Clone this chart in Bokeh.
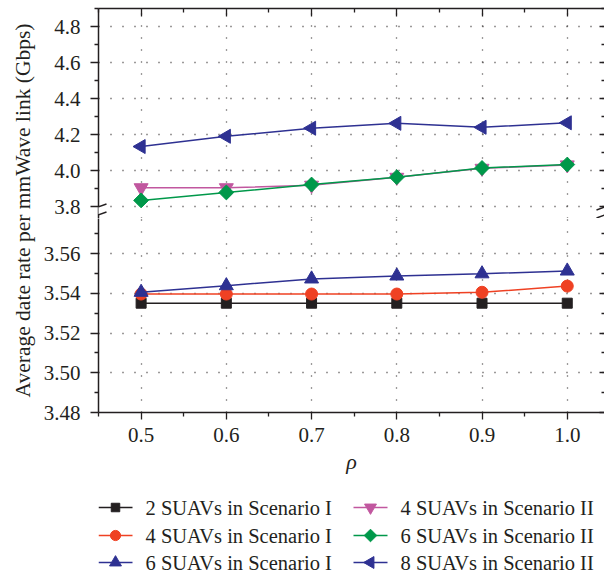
from math import pi
from bokeh.plotting import figure
from bokeh.layouts import row, column
from bokeh.models import (Range1d, LinearAxis, FixedTicker, Label, Arrow, Grid,
                          NumeralTickFormatter, CustomJSTickFormatter, ColumnDataSource)
from bokeh.core.properties import value
from bokeh.embed import file_html
from bokeh.resources import INLINE

# ---------------- data ----------------
rho = [0.5, 0.6, 0.7, 0.8, 0.9, 1.0]
suav2_I = [3.535, 3.535, 3.535, 3.535, 3.535, 3.535]
suav4_I = [3.5396, 3.5396, 3.5396, 3.5396, 3.5405, 3.5436]
suav6_I = [3.5405, 3.5438, 3.5472, 3.5487, 3.5498, 3.5512]
suav4_II = [3.904, 3.904, 3.918, 3.962, 4.012, 4.031]
suav6_II = [3.834, 3.878, 3.922, 3.963, 4.014, 4.033]
suav8_II = [4.133, 4.190, 4.235, 4.262, 4.240, 4.265]

x_ticks = [0.5, 0.6, 0.7, 0.8, 0.9, 1.0]
x_minor = [0.45, 0.55, 0.65, 0.75, 0.85, 0.95, 1.05]
top_ticks = [3.8, 4.0, 4.2, 4.4, 4.6, 4.8]
top_minor = [3.7, 3.9, 4.1, 4.3, 4.5, 4.7, 4.9]
bot_ticks = [3.48, 3.50, 3.52, 3.54, 3.56]
bot_minor = [3.49, 3.51, 3.53, 3.55, 3.57]

labels = ["2 SUAVs in Scenario I", "4 SUAVs in Scenario I", "6 SUAVs in Scenario I",
          "4 SUAVs in Scenario II", "6 SUAVs in Scenario II", "8 SUAVs in Scenario II"]
y_label = "Average date rate per mmWave link (Gbps)"
x_label = "ρ"

# ---------------- style ----------------
FONT = "Liberation Serif"
INK = "#231f20"
C_BLACK = "#231f20"
C_RED = "#ef4123"
C_NAVY = "#2e3192"
C_MAG = "#c1579f"
C_GREEN = "#00984a"
C_NAVY2 = "#2e3192"

X0, X1 = 0.45, 1.0437
FW = 506
TOP_FH = 210
TOP_Y1 = 4.9
TOP_Y0 = TOP_Y1 - TOP_FH / 180.0
BOT_FH = 194
BOT_Y0 = 3.48
BOT_Y1 = BOT_Y0 + BOT_FH / 1987.5
LEFT = 62
YL_W = 36
TOP_MB = 8
LEG_H = 97

xr = Range1d(X0, X1)


def make_fig(y0, y1, fh, mb_top, mb_bottom):
    return figure(x_range=xr, y_range=Range1d(y0, y1), frame_width=FW, frame_height=fh,
                  min_border_left=LEFT, min_border_right=0, min_border_top=mb_top,
                  min_border_bottom=mb_bottom, x_axis_type=None, y_axis_type=None,
                  toolbar_location=None, output_backend="svg", outline_line_color=None)


def style_grid(g):
    g.grid_line_color = INK
    g.grid_line_width = 1.3
    g.grid_line_dash = "1 11"
    g.grid_line_alpha = 0.9


blank = CustomJSTickFormatter(code="return ''")


def y_axis(ticks, minor, fmt, side):
    ax = LinearAxis(ticker=FixedTicker(ticks=ticks, minor_ticks=minor))
    ax.axis_line_color = INK
    ax.axis_line_width = 1.5
    ax.major_tick_line_color = INK
    ax.minor_tick_line_color = INK
    ax.major_tick_line_width = 1.3
    ax.minor_tick_line_width = 1.3
    if side == "left":
        ax.formatter = NumeralTickFormatter(format=fmt)
        ax.major_tick_out = 8
        ax.major_tick_in = 0
        ax.minor_tick_out = 4
        ax.minor_tick_in = 0
        ax.major_label_standoff = 10
        ax.major_label_text_font = FONT
        ax.major_label_text_font_size = "21px"
        ax.major_label_text_color = INK
    else:
        ax.formatter = blank
        ax.axis_line_color = None
        ax.major_tick_out = 0
        ax.major_tick_in = 5
        ax.minor_tick_out = 0
        ax.minor_tick_in = 3
        ax.major_label_standoff = 0
    return ax


def x_axis(side):
    ax = LinearAxis(ticker=FixedTicker(ticks=x_ticks, minor_ticks=x_minor))
    ax.axis_line_color = INK
    ax.axis_line_width = 1.5
    ax.major_tick_line_color = INK
    ax.minor_tick_line_color = INK
    ax.major_tick_line_width = 1.3
    ax.minor_tick_line_width = 1.3
    if side == "below":
        ax.formatter = NumeralTickFormatter(format="0.0")
        ax.major_tick_out = 7
        ax.major_tick_in = 0
        ax.minor_tick_out = 4
        ax.minor_tick_in = 0
        ax.major_label_standoff = 8
        ax.major_label_text_font = FONT
        ax.major_label_text_font_size = "21px"
        ax.major_label_text_color = INK
        ax.axis_label = x_label
        ax.axis_label_text_font = FONT
        ax.axis_label_text_font_style = "italic"
        ax.axis_label_text_font_size = "22px"
        ax.axis_label_text_color = INK
        ax.axis_label_standoff = 4
    else:
        ax.formatter = blank
        ax.major_tick_out = 0
        ax.major_tick_in = 8
        ax.minor_tick_out = 0
        ax.minor_tick_in = 4
        ax.major_label_standoff = 0
    return ax


def add_grids(p, yticks):
    gx = Grid(dimension=0, ticker=FixedTicker(ticks=x_ticks))
    gy = Grid(dimension=1, ticker=FixedTicker(ticks=yticks))
    style_grid(gx)
    style_grid(gy)
    p.add_layout(gx)
    p.add_layout(gy)


# colour, marker, size, angle
STYLES = [
    (C_BLACK, "square", 10, 0.0),
    (C_RED, "circle", 12, 0.0),
    (C_NAVY, "triangle", 14, 0.0),
    (C_MAG, "inverted_triangle", 14, 0.0),
    (C_GREEN, "square", 10.5, pi / 4),
    (C_NAVY2, "triangle", 14, pi / 2),
]


def series(p, xs, ys, idx):
    c, m, s, a = STYLES[idx]
    p.line(xs, ys, line_color=c, line_width=1.5)
    p.scatter(xs, ys, marker=m, size=s, fill_color=c, line_color=c, angle=a)


# ---------------- top panel ----------------
top = make_fig(TOP_Y0, TOP_Y1, TOP_FH, TOP_MB, 0)
add_grids(top, top_ticks)
top.add_layout(y_axis(top_ticks, top_minor, "0.0", "left"), "left")
top.add_layout(y_axis(top_ticks, top_minor, "0.0", "right"), "right")
top.add_layout(x_axis("above"), "above")
series(top, rho, suav4_II, 3)
series(top, rho, suav6_II, 4)
series(top, rho, suav8_II, 5)

# ---------------- bottom panel ----------------
bot = make_fig(BOT_Y0, BOT_Y1, BOT_FH, 0, 4)
add_grids(bot, bot_ticks)
bot.add_layout(y_axis(bot_ticks, bot_minor, "0.00", "left"), "left")
bot.add_layout(y_axis(bot_ticks, bot_minor, "0.00", "right"), "right")
bot.add_layout(x_axis("below"), "below")
series(bot, rho, suav2_I, 0)
series(bot, rho, suav4_I, 1)
series(bot, rho, suav6_I, 2)


# ---------------- axis-break marks (in the top panel's canvas) ----------------
def px_to_x(px):
    return X0 + (px - (YL_W + LEFT)) * (X1 - X0) / FW


def top_py(py):
    return TOP_Y1 - (py - TOP_MB) * (TOP_Y1 - TOP_Y0) / TOP_FH


top.add_layout(Arrow(end=None, x_start=X0, y_start=top_py(206.5), x_end=X0, y_end=top_py(213.5),
                     line_color="white", line_width=5, level="overlay"))
for (xa, xb) in [(89, 106), (596, 613)]:
    for (ya, yb) in [(209.5, 203.5), (217.5, 211.5)]:
        top.add_layout(Arrow(end=None, x_start=px_to_x(xa), y_start=top_py(ya),
                             x_end=px_to_x(xb), y_end=top_py(yb),
                             line_color=INK, line_width=1.4, level="overlay"))

# ---------------- legend (own panel, pixel coordinates, y down) ----------------
leg = figure(x_range=Range1d(0, FW), y_range=Range1d(LEG_H, 0), frame_width=FW,
             frame_height=LEG_H, min_border_left=LEFT, min_border_right=0,
             min_border_top=0, min_border_bottom=0, x_axis_type=None, y_axis_type=None,
             toolbar_location=None, output_backend="svg", outline_line_color=None)

col_x = [0, 255]
row_y = [31, 59, 86]
KEY_W = 34
TXT_OFF = 47
lx0, lx1, lxm, ly, ltx = [], [], [], [], []
for k in range(len(labels)):
    cx = col_x[k // 3]
    cy = row_y[k % 3]
    lx0.append(cx)
    lx1.append(cx + KEY_W)
    lxm.append(cx + KEY_W / 2)
    ly.append(cy)
    ltx.append(cx + TXT_OFF)

key_src = ColumnDataSource(dict(
    x0=lx0, x1=lx1, xm=lxm, y=ly, tx=ltx, text=labels,
    color=[s[0] for s in STYLES], marker=[s[1] for s in STYLES],
    size=[s[2] * 0.85 for s in STYLES], angle=[s[3] for s in STYLES]))

leg.segment(x0="x0", y0="y", x1="x1", y1="y", line_color="color", line_width=1.5,
            source=key_src)
leg.scatter(x="xm", y="y", marker="marker", size="size", angle="angle",
            fill_color="color", line_color="color", source=key_src)
leg.text(x="tx", y="y", text="text", text_font=value(FONT), text_font_size="20.5px",
         text_color=INK, text_baseline="middle", text_align="left", source=key_src)

# ---------------- y label ----------------
yl = figure(width=YL_W, height=576, x_range=Range1d(0, YL_W), y_range=Range1d(0, 576),
            min_border=0, x_axis_type=None, y_axis_type=None, toolbar_location=None,
            output_backend="svg", outline_line_color=None)
yl.add_layout(Label(x=22, y=576 - 210, text=y_label, angle=pi / 2, text_align="center",
                    text_baseline="middle", text_font=FONT, text_font_size="21.5px",
                    text_color=INK))

layout = row(yl, column(top, bot, leg))

open("out.html", "w").write(file_html(layout, INLINE))
